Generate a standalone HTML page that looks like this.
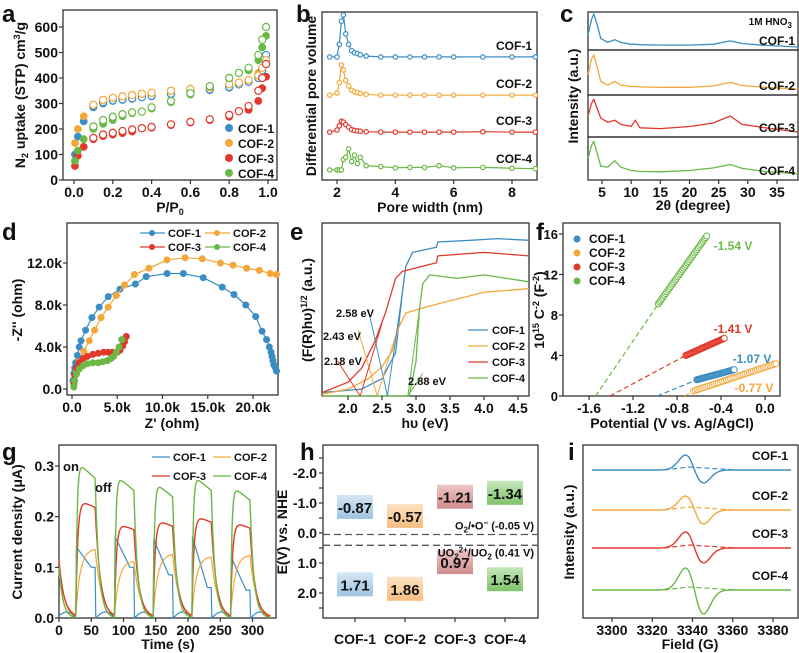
<!DOCTYPE html>
<html><head><meta charset="utf-8">
<style>
html,body{margin:0;padding:0;background:#fff;}
svg{display:block;font-family:"Liberation Sans",Arial,sans-serif;font-weight:bold;}
</style></head>
<body>
<svg id="fig" width="799" height="653" viewBox="0 0 799 653" xmlns="http://www.w3.org/2000/svg"></svg>
<script>
// ---------- DATA ----------
const names=['COF-1','COF-2','COF-3','COF-4'];
const colors=['#3b8ec3','#f3a73a','#e0392b','#6bb846'];
// a: N2 isotherms
const aP=[0.005,0.02,0.05,0.1,0.15,0.2,0.25,0.3,0.4,0.5,0.6,0.7,0.8,0.9,0.95,0.97,0.99];
const aAds1=[100,170,230,285,300,310,314,318,328,335,342,352,362,385,410,440,490];
const aAds2=[145,200,250,290,310,320,326,330,340,348,355,362,372,390,420,440,470];
const aAds3=[55,95,130,160,172,178,184,190,205,215,225,235,248,275,310,360,405];
const aAds4=[75,115,160,200,220,235,250,262,280,305,335,365,395,430,470,520,565];
const aDesP=[0.99,0.97,0.95,0.9,0.85,0.8,0.7,0.6,0.5,0.4,0.35,0.3,0.25,0.2,0.15,0.1];
const aDes1=[490,430,400,385,375,365,355,345,338,330,325,320,316,312,305,290];
const aDes2=[470,440,410,392,382,375,364,357,350,342,338,333,328,322,314,295];
const aDes3=[455,400,350,290,270,255,238,228,218,208,203,198,192,185,178,165];
const aDes4=[600,550,490,440,420,400,368,340,310,285,268,265,258,248,235,210];
// b: pore size
const bX1=[1.75,2.0,2.08,2.15,2.22,2.3,2.4,2.5,2.6,2.7,2.8,3.0,3.5,4,4.5,5,5.5,6,7,8,8.8];
const bY1=[0,0,0.3,0.85,1.0,0.55,0.3,0.15,0.1,0.08,0.05,0.02,0,0,0,0,0,0,0,0,0];
const bY2=[0,0.05,0.3,0.72,0.6,0.35,0.22,0.12,0.08,0.06,0.04,0.02,0,0,0,0,0,0,0,0,0];
const bY3=[0,0.05,0.15,0.26,0.24,0.18,0.12,0.06,0.04,0.03,0.02,0.01,0,0,0,0,0,0,0.01,0,0];
const bY4=[0,0,0,0,0.25,0.3,0.5,0.2,0.35,0.15,0.3,0.1,0.08,0.05,0.06,0.06,0.1,0.05,0.06,0.04,0.03];
const bBase=[2.93,2.02,1.14,0.24];
// c: PXRD
const cX=[2.6,3.2,3.6,4.1,4.8,6,7.2,8.2,10,10.7,11.5,15,20,24,27,29,33,38.6];
const cY1=[0.4,0.8,0.95,0.7,0.3,0.2,0.27,0.2,0.15,0.15,0.14,0.13,0.13,0.15,0.24,0.17,0.12,0.08];
const cY2=[0.45,0.8,0.89,0.65,0.3,0.22,0.3,0.22,0.19,0.19,0.18,0.17,0.17,0.2,0.28,0.21,0.17,0.13];
const cY3=[0.5,0.8,0.9,0.7,0.45,0.35,0.4,0.3,0.25,0.4,0.22,0.2,0.25,0.33,0.5,0.3,0.22,0.12];
const cY4=[0.5,0.8,0.9,0.65,0.32,0.3,0.45,0.3,0.22,0.21,0.2,0.19,0.22,0.28,0.36,0.27,0.2,0.14];
// d: Nyquist (k ohm)
const dX1=[0.1,0.2,0.3,0.4,0.6,0.8,1.0,1.5,2.2,3.0,4.0,5.3,7,8.2,10.5,12.3,14.5,16.6,17.9,19.2,20.3,21,21.5,21.8,22,22.1,22.2,22.3,22.5,22.6];
const dY1=[0.8,1.5,2,2.5,3.2,4,4.6,5.6,6.8,7.8,8.8,9.5,10,10.7,11,11,10.6,9.7,9,8,6.9,5.5,4.7,4,3.5,3.1,2.7,2.3,2,1.7];
const dX2=[0.2,0.5,0.8,1.3,1.9,2.5,3.2,4,4.9,5.8,6.9,8.5,10.5,12.5,14.4,16.4,17.8,19.3,20.7,21.9,22.6];
const dY2=[0.5,1.6,2.6,3.6,4.6,5.6,6.8,7.8,8.9,9.9,10.9,11.5,12.3,12.5,12.4,12.0,11.8,11.5,11.3,11.0,10.9];
const dX3=[0.2,0.3,0.5,0.8,1.2,1.7,2.3,2.9,3.5,4.0,4.5,5.0,5.3,5.6,5.8,6.0];
const dY3=[0.5,1.3,2.0,2.5,2.9,3.1,3.3,3.4,3.5,3.5,3.5,3.5,3.7,4.1,4.5,5.0];
const dX4=[0.2,0.3,0.5,0.8,1.2,1.7,2.3,2.9,3.4,3.9,4.3,4.6,4.9,5.2,5.5];
const dY4=[0.2,0.8,1.4,1.9,2.2,2.4,2.5,2.5,2.6,2.7,2.9,3.1,3.5,4.0,4.7];
// e: Tauc
const eX1=[1.62,2.2,2.5,2.7,2.8,2.85,2.95,3.3,3.32,3.8,4.2,4.66];
const eY1=[0.02,0.04,0.1,0.25,0.6,0.75,0.83,0.86,0.89,0.9,0.91,0.9];
const eX2=[1.62,2.0,2.3,2.5,2.65,2.75,2.85,3.2,3.6,4.0,4.66];
const eY2=[0.01,0.04,0.1,0.17,0.26,0.4,0.48,0.52,0.56,0.6,0.62];
const eX3=[1.62,2.0,2.2,2.4,2.55,2.7,2.8,3.3,3.32,4.0,4.66];
const eY3=[0.02,0.08,0.16,0.32,0.48,0.68,0.72,0.77,0.81,0.83,0.81];
const eX4=[1.62,2.9,3.0,3.05,3.1,3.2,3.6,4.0,4.66];
const eY4=[0,0,0.2,0.5,0.65,0.7,0.68,0.7,0.66];
const eGap=[2.58,2.43,2.18,2.88];
// f: Mott-Schottky
const fStart=[-0.62,-0.65,-0.72,-0.97];
const fEnd=[-0.28,0.1,-0.37,-0.53];
const fYs=[1.6,0.5,4.0,9.1];
const fYe=[2.6,3.2,5.7,15.8];
const fIntercept=[-0.98,-0.73,-1.41,-1.54];
const fLabel=['-1.07 V','-0.77 V','-1.41 V','-1.54 V'];
// g: photocurrent
const gOn=[27,87,147,207,267];
const gOff=[57,117,177,237,297];
const gPeak2=[0.137,0.113,0.127,0.122,0.125];
const gPeak3=[0.225,0.18,0.187,0.195,0.183];
const gPeak4=[0.29,0.265,0.252,0.265,0.245];
const gStart1=[0.14,0.16,0.155,0.16,0.12];
const gEnd1=[0.10,0.10,0.085,0.06,0.055];
// h: band positions
const hCB=[-0.87,-0.57,-1.21,-1.34];
const hVB=[1.71,1.86,0.97,1.54];
const hRef=[0.05,0.41];
// i: EPR
const iAmpUp=[15,14,16,22];
const iAmpDown=[13,14,15,24];
const iBase=[470,510,548,590];

// ---------- HELPERS ----------
const svg=document.getElementById('fig');
const NS='http://www.w3.org/2000/svg';
function el(tag,attrs,name,parent){
  const e=document.createElementNS(NS,tag);
  for(const k in attrs)e.setAttribute(k,attrs[k]);
  
  
  (parent||svg).appendChild(e);return e;
}
function txt(x,y,s,name,opt){
  opt=opt||{};
  const t=el('text',{x:x,y:y,'font-size':opt.size||13,'text-anchor':opt.anchor||'middle',fill:opt.fill||'#111'},name);
  if(opt.rot!==undefined)t.setAttribute('transform','rotate('+opt.rot+' '+x+' '+y+')');
  t.innerHTML=s;return t;
}
function frame(x0,y0,x1,y1,name){el('rect',{x:x0,y:y0,width:x1-x0,height:y1-y0,fill:'none',stroke:'#333','stroke-width':1.3},name);}
function lin(d0,d1,p0,p1){return v=>p0+(v-d0)*(p1-p0)/(d1-d0);}
function poly(xs,ys,sx,sy,col,name,w,dash){
  const pts=xs.map((x,i)=>sx(x).toFixed(1)+','+sy(ys[i]).toFixed(1)).join(' ');
  const a={points:pts,fill:'none',stroke:col,'stroke-width':w||1.3,'stroke-linejoin':'round'};
  if(dash)a['stroke-dasharray']=dash;
  return el('polyline',a,name);
}
function dots(xs,ys,sx,sy,col,name,r,open){
  xs.forEach((x,i)=>{
    el('circle',{cx:sx(x),cy:sy(ys[i]),r:r||3.5,fill:open?'#fff':col,stroke:col,'stroke-width':open?1.2:0.6},name);
  });
}
function xticks(vals,labels,sx,y,name){
  vals.forEach((v,i)=>{el('line',{x1:sx(v),x2:sx(v),y1:y,y2:y+4,stroke:'#333','stroke-width':1.2},name+'-tick');
    txt(sx(v),y+17,labels[i],name+'-label',{size:14});});
}
function yticks(vals,labels,sy,x,name,size){
  vals.forEach((v,i)=>{el('line',{x1:x-4,x2:x,y1:sy(v),y2:sy(v),stroke:'#333','stroke-width':1.2},name+'-tick');
    if(labels)txt(x-5,sy(v)+5,labels[i],name+'-label',{size:size||14,anchor:'end'});});
}
function letter(x,y,s){txt(x,y,s,'panel-label-'+s,{size:24,anchor:'start'});}

// ---------- PANEL A ----------
{
letter(2,22,'a');
const sx=lin(0,1,74,268), sy=lin(0,600,180,27);
frame(63,10,277,180,'panel-a-frame');
const ads=[aAds1,aAds2,aAds3,aAds4], des=[aDes1,aDes2,aDes3,aDes4];
ads.forEach((s,k)=>{dots(aP,s,sx,sy,colors[k],'adsorption-point-'+names[k],3.6,false);});
des.forEach((s,k)=>{dots(aDesP,s,sx,sy,colors[k],'desorption-point-'+names[k],3.6,true);});
xticks([0,0.2,0.4,0.6,0.8,1.0],['0.0','0.2','0.4','0.6','0.8','1.0'],sx,180,'a-x');
yticks([0,100,200,300,400,500,600],['0','100','200','300','400','500','600'],sy,63,'a-y');
txt(170,212,'P/P<tspan font-size="9" dy="3">0</tspan>','a-x-title',{size:14});
txt(25,95,'N<tspan font-size="9" dy="3">2</tspan><tspan dy="-3"> uptake (STP) cm</tspan><tspan font-size="9" dy="-5">3</tspan><tspan dy="5">/g</tspan>','a-y-title',{size:14,rot:-90});
names.forEach((n,k)=>{el('circle',{cx:229,cy:128+k*15,r:4,fill:colors[k]},'a-legend-marker');txt(238,133+k*15,n,'a-legend-entry',{size:12,anchor:'start'});});
}
// ---------- PANEL B ----------
{
letter(296,22,'b');
const sx=lin(2,8,337,512), sy=lin(0,4,180,12);
frame(322,12,537,180,'panel-b-frame');
[bY1,bY2,bY3,bY4].forEach((s,k)=>{
  const ys=s.map(v=>v+bBase[k]);
  poly(bX1,ys,sx,sy,colors[k],'pore-curve-'+names[k],1.2);
  dots(bX1,ys,sx,sy,colors[k],'pore-point-'+names[k],2.2,true);
  txt(532,sy(bBase[k])-7,names[k],'b-series-label',{size:12,anchor:'end'});
});
xticks([2,4,6,8],['2','4','6','8'],sx,180,'b-x');
txt(430,212,'Pore width (nm)','b-x-title',{size:14});
txt(316,96,'Differential pore volume','b-y-title',{size:14,rot:-90});
}
// ---------- PANEL C ----------
{
letter(560,22,'c');
const sx=lin(5,35,602,777);
const rows=[12,50,95,137,180];
[cY1,cY2,cY3,cY4].forEach((s,k)=>{
  const sy=lin(0,1,rows[k+1],rows[k]);
  frame(588,rows[k],798,rows[k+1],'c-subpanel-frame');
  poly(cX,s,sx,sy,colors[k],'xrd-pattern-'+names[k],1.3);
  txt(795,rows[k+1]-5,names[k],'c-series-label',{size:12,anchor:'end'});
});
txt(792,25,'1M HNO<tspan font-size="8" dy="3">3</tspan>','c-annotation',{size:10,anchor:'end'});
xticks([5,10,15,20,25,30,35],['5','10','15','20','25','30','35'],sx,180,'c-x');
txt(693,210,'2θ (degree)','c-x-title',{size:14});
txt(578,96,'Intensity (a.u.)','c-y-title',{size:14,rot:-90});
}
// ---------- PANEL D ----------
{
letter(2,240,'d');
const sx=lin(0,20,72,253), sy=lin(0,12,389,263);
frame(67,223,278,395,'panel-d-frame');
const X=[dX1,dX2,dX3,dX4],Y=[dY1,dY2,dY3,dY4];
X.forEach((xs,k)=>{poly(xs,Y[k],sx,sy,colors[k],'nyquist-line-'+names[k],1.2);dots(xs,Y[k],sx,sy,colors[k],'nyquist-point-'+names[k],3.2,false);});
xticks([0,5,10,15,20],['0.0','5.0k','10.0k','15.0k','20.0k'],sx,395,'d-x');
yticks([0,4,8,12],['0.0','4.0k','8.0k','12.0k'],sy,67,'d-y');
txt(172,428,"Z' (ohm)",'d-x-title',{size:14});
txt(22,310,"-Z'' (ohm)",'d-y-title',{size:14,rot:-90});
const lg=[[140,233],[205,233],[140,247],[205,247]];
names.forEach((n,k)=>{el('line',{x1:lg[k][0],x2:lg[k][0]+25,y1:lg[k][1],y2:lg[k][1],stroke:colors[k],'stroke-width':1.3},'d-legend-line');
  el('circle',{cx:lg[k][0]+12,cy:lg[k][1],r:3,fill:colors[k]},'d-legend-marker');
  txt(lg[k][0]+28,lg[k][1]+4,n,'d-legend-entry',{size:11,anchor:'start'});});
}
// ---------- PANEL E ----------
{
letter(290,240,'e');
const sx=lin(2,4.5,348,518), sy=lin(0,1,396,223);
frame(322,223,529,396,'panel-e-frame');
const X=[eX1,eX2,eX3,eX4],Y=[eY1,eY2,eY3,eY4];
X.forEach((xs,k)=>poly(xs,Y[k],sx,sy,colors[k],'tauc-curve-'+names[k],1.3));
const tanTop=[[2.8,0.6],[2.7,0.35],[2.5,0.42],[3.05,0.5]];
const lab=[[2.3,0.5],[2.15,0.38],[1.85,0.2],[3.1,0.13]];
eGap.forEach((g,k)=>{
  el('line',{x1:sx(g),y1:sy(0),x2:sx(tanTop[k][0]),y2:sy(tanTop[k][1]),stroke:colors[k],'stroke-width':1},'tangent-line-'+names[k]);
  el('line',{x1:sx(g),y1:sy(0),x2:sx(lab[k][0]),y2:sy(lab[k][1]),stroke:colors[k],'stroke-width':1},'gap-arrow-'+names[k]);
});
txt(355,317,'2.58 eV','gap-label-COF-1',{size:11});
txt(342,340,'2.43 eV','gap-label-COF-2',{size:11});
txt(324,365,'2.18 eV','gap-label-COF-3',{size:11,anchor:'start'});
txt(427,385,'2.88 eV','gap-label-COF-4',{size:11});
names.forEach((n,k)=>{el('line',{x1:468,x2:488,y1:330+k*16,y2:330+k*16,stroke:colors[k],'stroke-width':1.3},'e-legend-line');
  txt(492,334+k*16,n,'e-legend-entry',{size:11,anchor:'start'});});
xticks([2,2.5,3,3.5,4,4.5],['2.0','2.5','3.0','3.5','4.0','4.5'],sx,396,'e-x');
txt(425,428,'hυ (eV)','e-x-title',{size:14});
txt(312,310,'(F(R)hυ)<tspan font-size="9" dy="-5">1/2</tspan><tspan dy="5"> (a.u.)</tspan>','e-y-title',{size:14,rot:-90});
}
// ---------- PANEL F ----------
{
letter(536,240,'f');
const sx=lin(-1.6,0,589,765), sy=lin(0,16,396,234);
frame(563,223,780,396,'panel-f-frame');
fStart.forEach((s,k)=>{
  el('line',{x1:sx(fIntercept[k]),y1:sy(0),x2:sx(s),y2:sy(fYs[k]),stroke:colors[k],'stroke-width':1.2,'stroke-dasharray':'5,3'},'extrapolation-'+names[k]);
  const n=40;
  for(let i=0;i<=n;i++){
    const v=s+(fEnd[k]-s)*i/n, w=fYs[k]+(fYe[k]-fYs[k])*i/n;
    el('circle',{cx:sx(v),cy:sy(w),r:3,fill:'#fff',stroke:colors[k],'stroke-width':1},'ms-point-'+names[k]);
  }
});
txt(752,363,fLabel[0],'f-label-COF-1',{size:12,fill:colors[0]});
txt(754,392,fLabel[1],'f-label-COF-2',{size:12,fill:colors[1]});
txt(733,333,fLabel[2],'f-label-COF-3',{size:12,fill:colors[2]});
txt(733,250,fLabel[3],'f-label-COF-4',{size:12,fill:colors[3]});
names.forEach((n,k)=>{el('circle',{cx:577,cy:239+k*14,r:3.5,fill:colors[k]},'f-legend-marker');txt(589,243+k*14,n,'f-legend-entry',{size:12,anchor:'start'});});
xticks([-1.6,-1.2,-0.8,-0.4,0],['-1.6','-1.2','-0.8','-0.4','0.0'],sx,396,'f-x');
yticks([0,4,8,12,16],['0','4','8','12','16'],sy,563,'f-y',13);
txt(672,428,'Potential (V vs. Ag/AgCl)','f-x-title',{size:14});
txt(544,310,'10<tspan font-size="9" dy="-5">15</tspan><tspan dy="5"> C</tspan><tspan font-size="9" dy="-5">-2</tspan><tspan dy="5"> (F</tspan><tspan font-size="9" dy="-5">-2</tspan><tspan dy="5">)</tspan>','f-y-title',{size:14,rot:-90});
}
// ---------- PANEL G ----------
{
letter(2,460,'g');
const sx=lin(0,300,59,252.5), sy=lin(0,0.3,618,466);
frame(59,445,276,618,'panel-g-frame');
function trace(peaks,tauOn,tauOff,init,sag){
  const xs=[],ys=[];let val=init;
  for(let t=0;t<=328;t+=1){
    let c=-1;for(let i=0;i<gOn.length;i++){if(t>=gOn[i]&&t<gOff[i])c=i;}
    if(c>=0){const f=(t-gOn[c])/(gOff[c]-gOn[c]);const target=peaks[c]*(1+sag*0.5-sag*f);val=val+(target-val)*(1-Math.exp(-1/tauOn));}
    else{val=val*Math.exp(-1/tauOff);}
    xs.push(t);ys.push(val);
  }
  return [xs,ys];
}
const t4=trace(gPeak4,2,6,0.12,0.12), t3=trace(gPeak3,3,8,0.13,0.08), t2=trace(gPeak2,7,10,0.1,0);
const x1=[],y1=[];
for(let t=0;t<=328;t++){let c=-1;for(let i=0;i<gOn.length;i++){if(t>=gOn[i]&&t<gOff[i])c=i;}
  let v;
  if(c>=0){const f=(t-gOn[c])/(gOff[c]-gOn[c]);v=gStart1[c]+(gEnd1[c]-gStart1[c])*Math.min(1,f*1.3);}
  else{let prev=-1;for(let i=0;i<gOff.length;i++){if(t>=gOff[i])prev=i;}
    const d=prev>=0?t-gOff[prev]:t+3;v=0.012*Math.sin(Math.PI*Math.min(1,d/30));}
  x1.push(t);y1.push(v);}
poly(x1,y1,sx,sy,colors[0],'photocurrent-COF-1',1.2);
poly(t2[0],t2[1],sx,sy,colors[1],'photocurrent-COF-2',1.2);
poly(t3[0],t3[1],sx,sy,colors[2],'photocurrent-COF-3',1.4);
poly(t4[0],t4[1],sx,sy,colors[3],'photocurrent-COF-4',1.4);
txt(63,471,'on','on-label',{size:13,anchor:'start'});
txt(95,492,'off','off-label',{size:13,anchor:'start'});
const lg=[[152,457],[213,457],[152,476],[213,476]];
names.forEach((n,k)=>{el('line',{x1:lg[k][0],x2:lg[k][0]+18,y1:lg[k][1],y2:lg[k][1],stroke:colors[k],'stroke-width':1.3},'g-legend-line');
  txt(lg[k][0]+21,lg[k][1]+4,n,'g-legend-entry',{size:11,anchor:'start'});});
xticks([0,50,100,150,200,250,300],['0','50','100','150','200','250','300'],sx,618,'g-x');
yticks([0,0.1,0.2,0.3],['0.0','0.1','0.2','0.3'],sy,59,'g-y');
txt(168,649,'Time (s)','g-x-title',{size:14});
txt(22,532,'Current density (μA)','g-y-title',{size:14,rot:-90});
}
// ---------- PANEL H ----------
{
letter(300,460,'h');
const sy=lin(0,2,533,593);
const cx=[355,405,455,505];
const fills=[['#9cc4e0','#d5e7f3'],['#f6bd7f','#fde3c3'],['#cf8c8c','#eec6c6'],['#7fc36c','#c4e6b9']];
frame(323,445,538,618,'panel-h-frame');
const defs=el('defs',{},'h-defs');
fills.forEach((f,k)=>{const g=el('linearGradient',{id:'hg'+k,x1:0,y1:0,x2:0,y2:1},'h-gradient',defs);
  el('stop',{offset:0,'stop-color':f[1]},'stop',g);el('stop',{offset:1,'stop-color':f[0]},'stop',g);});
hRef.forEach((v,i)=>el('line',{x1:323,x2:538,y1:sy(v),y2:sy(v),stroke:'#555','stroke-width':1.3,'stroke-dasharray':'7,4'},'reference-line'));
[hCB,hVB].forEach((arr,j)=>arr.forEach((v,k)=>{
  el('rect',{x:cx[k]-18,y:sy(v)-12,width:36,height:24,fill:'url(#hg'+k+')'},(j?'vb':'cb')+'-box-'+names[k]);
  txt(cx[k],sy(v)+6,v.toFixed(2),(j?'vb':'cb')+'-value-'+names[k],{size:15});
}));
txt(534,sy(hRef[0])-5,'O<tspan font-size="8" dy="3">2</tspan><tspan dy="-3">/•O</tspan><tspan font-size="8" dy="-4">−</tspan><tspan dy="4"> (-0.05 V)</tspan>','o2-reference-label',{size:11,anchor:'end'});
txt(534,sy(hRef[1])+11,'UO<tspan font-size="8" dy="3">2</tspan><tspan font-size="8" dy="-7">2+</tspan><tspan dy="4">/UO</tspan><tspan font-size="8" dy="3">2</tspan><tspan dy="-3">  (0.41 V)</tspan>','uo2-reference-label',{size:11,anchor:'end'});
yticks([-2.5,-2,-1.5,-1,-0.5,0,0.5,1,1.5,2,2.5],null,sy,323,'h-y');
[[-2,'-2.0'],[-1,'-1.0'],[0,'0.0'],[1,'1.0'],[2,'2.0']].forEach(p=>txt(317,sy(p[0])+5,p[1],'h-y-label',{size:14,anchor:'end'}));
cx.forEach((x,k)=>{el('line',{x1:x,x2:x,y1:618,y2:622,stroke:'#333','stroke-width':1.2},'h-x-tick');txt(x,644,names[k],'h-category-label',{size:14});});
txt(287,532,'E(V) vs. NHE','h-y-title',{size:14,rot:-90});
}
// ---------- PANEL I ----------
{
letter(568,460,'i');
const sx=lin(3300,3380,612,773);
frame(583,445,798,618,'panel-i-frame');
iBase.forEach((b,k)=>{
  const xs=[],ys=[];
  for(let f=3290;f<=3389;f+=0.5){const u=(f-3341)/4.5;
    const A=u<0?iAmpUp[k]:iAmpDown[k];
    ys.push(b - A*(-u)*Math.exp(0.5-u*u/2));xs.push(f);}
  poly(xs,ys,sx,v=>v,colors[k],'epr-signal-'+names[k],1.4);
  el('line',{x1:sx(3326),y1:b,x2:sx(3338),y2:b-3,stroke:colors[k],'stroke-width':1.2,'stroke-dasharray':'5,3'},'epr-baseline-'+names[k]);
  el('line',{x1:sx(3338),y1:b-3,x2:sx(3362),y2:b,stroke:colors[k],'stroke-width':1.2,'stroke-dasharray':'5,3'},'epr-baseline-'+names[k]);
  txt(788,b-10,names[k],'i-series-label',{size:12,anchor:'end'});
});
xticks([3300,3320,3340,3360,3380],['3300','3320','3340','3360','3380'],sx,618,'i-x');
txt(690,649,'Field (G)','i-x-title',{size:14});
txt(574,532,'Intensity (a.u.)','i-y-title',{size:14,rot:-90});
}
</script>
</body></html>
